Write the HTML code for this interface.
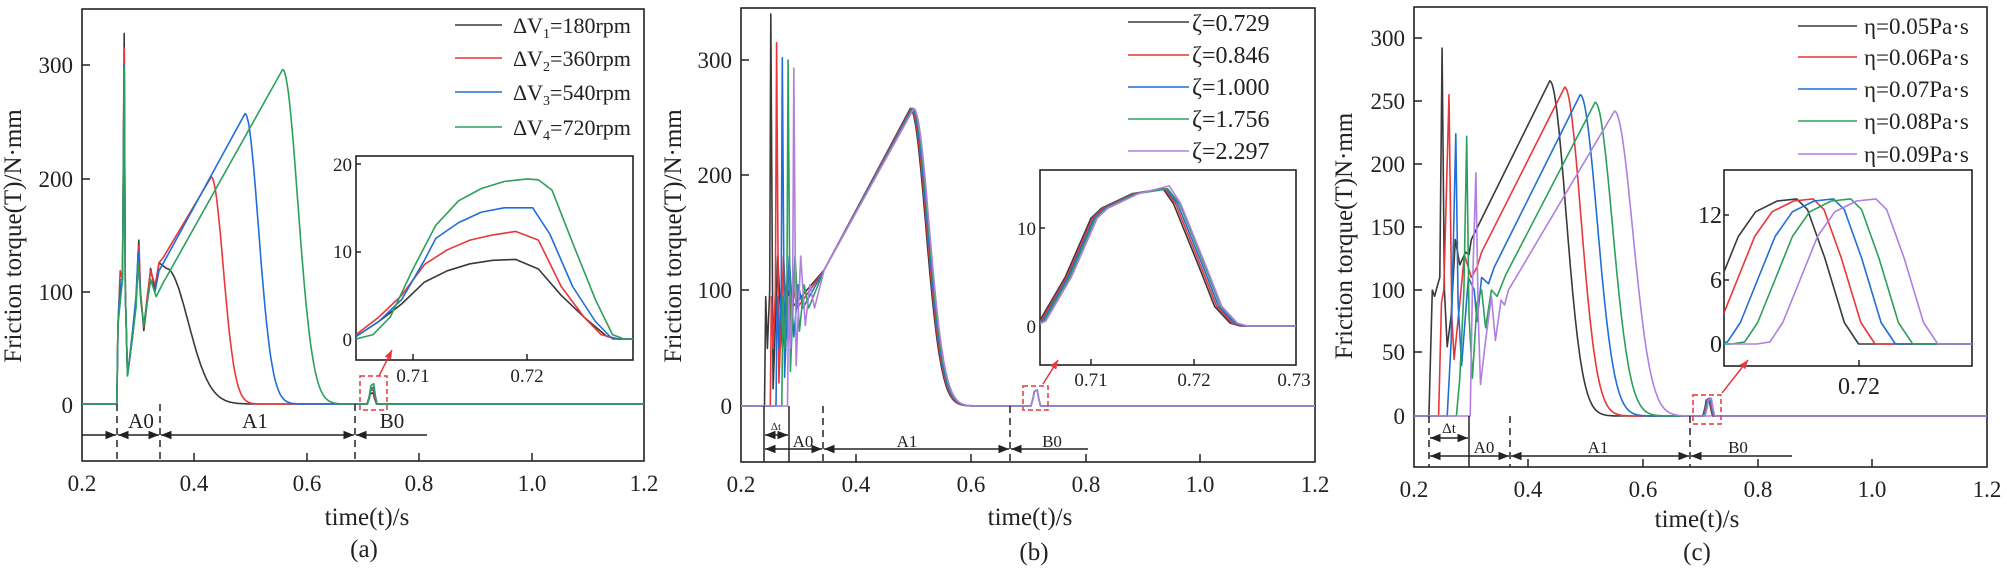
<!DOCTYPE html>
<html><head><meta charset="utf-8"><style>
html,body{margin:0;padding:0;background:#fff}
svg{display:block}
text{font-family:"Liberation Serif",serif;fill:#222}
</style></head><body>
<svg id="s" width="2007" height="579" viewBox="0 0 2007 579" xmlns="http://www.w3.org/2000/svg">
<defs>
<clipPath id="ca"><rect x="82" y="9" width="562" height="452"/></clipPath>
<clipPath id="cb"><rect x="741" y="8" width="574" height="454"/></clipPath>
<clipPath id="cc"><rect x="1414" y="7" width="573" height="460"/></clipPath>
<clipPath id="ia"><rect x="356" y="156" width="277" height="204"/></clipPath>
<clipPath id="ib"><rect x="1040" y="170" width="256" height="195"/></clipPath>
<clipPath id="ic"><rect x="1724" y="170" width="248" height="196"/></clipPath>
<marker id="ah" viewBox="0 0 10 10" refX="10" refY="5" markerWidth="7" markerHeight="7" orient="auto-start-reverse"><path d="M0,1 L10,5 L0,9 z" fill="#222"/></marker>
<marker id="ar" viewBox="0 0 10 10" refX="10" refY="5" markerWidth="6" markerHeight="6" orient="auto"><path d="M0,1 L10,5 L0,9 z" fill="#e8373a"/></marker>
</defs>
<g fill="none" stroke="#222" stroke-width="1.6">
<rect x="82" y="9" width="562" height="452"/>
<rect x="741" y="8" width="574" height="454"/>
<rect x="1414" y="7" width="573" height="460"/>
<rect x="356" y="156" width="277" height="204"/>
<rect x="1040" y="170" width="256" height="195"/>
<rect x="1724" y="170" width="248" height="196"/>
</g>
<g id="ticks" stroke="#222" stroke-width="1.5"></g>
<g id="curves" fill="none" stroke-width="1.6" stroke-linejoin="round"></g>

<!-- panel a text -->
<g font-size="23" text-anchor="end">
<text x="73" y="73">300</text><text x="73" y="187">200</text><text x="73" y="300">100</text><text x="73" y="413">0</text>
</g>
<g font-size="23" text-anchor="middle">
<text x="82" y="491">0.2</text><text x="194" y="491">0.4</text><text x="307" y="491">0.6</text><text x="419" y="491">0.8</text><text x="532" y="491">1.0</text><text x="644" y="491">1.2</text>
<text x="367" y="525" font-size="25">time(t)/s</text><text x="364" y="557" font-size="25">(a)</text>
</g>
<text transform="translate(21,236) rotate(-90)" font-size="25" text-anchor="middle">Friction torque(T)/N·mm</text>
<g font-size="22">
<text x="513" y="33">ΔV<tspan font-size="14" dy="5">1</tspan><tspan dy="-5">=180rpm</tspan></text>
<text x="513" y="66">ΔV<tspan font-size="14" dy="5">2</tspan><tspan dy="-5">=360rpm</tspan></text>
<text x="513" y="100">ΔV<tspan font-size="14" dy="5">3</tspan><tspan dy="-5">=540rpm</tspan></text>
<text x="513" y="135">ΔV<tspan font-size="14" dy="5">4</tspan><tspan dy="-5">=720rpm</tspan></text>
</g>
<g font-size="19" text-anchor="end"><text x="352" y="171">20</text><text x="352" y="258">10</text><text x="352" y="346">0</text></g>
<g font-size="19" text-anchor="middle"><text x="413" y="382">0.71</text><text x="527" y="382">0.72</text></g>
<g font-size="21" text-anchor="middle"><text x="141" y="428">A0</text><text x="255" y="428">A1</text><text x="392" y="428">B0</text></g>

<!-- panel b text -->
<g font-size="23" text-anchor="end">
<text x="732" y="68">300</text><text x="732" y="183">200</text><text x="732" y="298">100</text><text x="732" y="414">0</text>
</g>
<g font-size="23" text-anchor="middle">
<text x="741" y="492">0.2</text><text x="856" y="492">0.4</text><text x="971" y="492">0.6</text><text x="1086" y="492">0.8</text><text x="1200" y="492">1.0</text><text x="1315" y="492">1.2</text>
<text x="1030" y="525" font-size="25">time(t)/s</text><text x="1034" y="560" font-size="25">(b)</text>
</g>
<text transform="translate(681,236) rotate(-90)" font-size="25" text-anchor="middle">Friction torque(T)/N·mm</text>
<g font-size="24">
<text x="1192" y="31">ζ=0.729</text><text x="1192" y="63">ζ=0.846</text><text x="1192" y="95">ζ=1.000</text><text x="1192" y="127">ζ=1.756</text><text x="1192" y="159">ζ=2.297</text>
</g>
<g font-size="19" text-anchor="end"><text x="1036" y="235">10</text><text x="1036" y="333">0</text></g>
<g font-size="19" text-anchor="middle"><text x="1091" y="386">0.71</text><text x="1194" y="386">0.72</text><text x="1294" y="386">0.73</text></g>
<g font-size="17" text-anchor="middle"><text x="803" y="447">A0</text><text x="907" y="447">A1</text><text x="1052" y="447">B0</text><text x="776" y="430" font-size="11">Δt</text></g>

<!-- panel c text -->
<g font-size="23" text-anchor="end">
<text x="1405" y="46">300</text><text x="1405" y="109">250</text><text x="1405" y="172">200</text><text x="1405" y="235">150</text><text x="1405" y="298">100</text><text x="1405" y="360">50</text><text x="1405" y="424">0</text>
</g>
<g font-size="23" text-anchor="middle">
<text x="1414" y="497">0.2</text><text x="1528" y="497">0.4</text><text x="1643" y="497">0.6</text><text x="1758" y="497">0.8</text><text x="1872" y="497">1.0</text><text x="1987" y="497">1.2</text>
<text x="1697" y="527" font-size="25">time(t)/s</text><text x="1697" y="560" font-size="25">(c)</text>
</g>
<text transform="translate(1352,236) rotate(-90)" font-size="25" text-anchor="middle">Friction torque(T)N·mm</text>
<g font-size="23">
<text x="1864" y="34">η=0.05Pa·s</text><text x="1864" y="65">η=0.06Pa·s</text><text x="1864" y="97">η=0.07Pa·s</text><text x="1864" y="129">η=0.08Pa·s</text><text x="1864" y="162">η=0.09Pa·s</text>
</g>
<g font-size="24" text-anchor="end"><text x="1722" y="223">12</text><text x="1722" y="288">6</text><text x="1722" y="352">0</text></g>
<text x="1859" y="394" font-size="24" text-anchor="middle">0.72</text>
<g font-size="17" text-anchor="middle"><text x="1484" y="453">A0</text><text x="1598" y="453">A1</text><text x="1738" y="453">B0</text><text x="1449" y="433" font-size="15">Δt</text></g>

<g id="ann" fill="none" stroke="#222" stroke-width="1.5"></g>
</svg>
<script>
var NS="http://www.w3.org/2000/svg";
function el(par,tag,at){var e=document.createElementNS(NS,tag);for(var k in at)e.setAttribute(k,at[k]);document.getElementById(par).appendChild(e);return e;}
function G(t0,v0,w,t1){var r=[];for(var t=t0+0.002;t<=t1;t+=0.002){var z=(t-t0)/w;r.push([t,v0*Math.exp(-z*z)]);}return r;}
function B(c,h){return [[c-0.009,0],[c-0.005,h*0.5],[c-0.003,h*0.9],[c+0.002,h],[c+0.005,h*0.4],[c+0.008,0]];}
function poly(g,pts,X,Y,col,clip){el(g,"polyline",{points:pts.map(function(p){return X(p[0]).toFixed(1)+","+Y(p[1]).toFixed(1);}).join(" "),stroke:col,"clip-path":"url(#"+clip+")"});}
var C=["#3a3a3a","#e8373a","#1f6fd6","#2ca05a","#b07fe0"];
function tk(x1,y1,x2,y2){el("ticks","line",{x1:x1,y1:y1,x2:x2,y2:y2});}
[194,307,419,532].forEach(function(x){tk(x,461,x,453);});[65,179,292].forEach(function(y){tk(82,y,90,y);});
[856,971,1086,1200].forEach(function(x){tk(x,462,x,454);});[60,175,290].forEach(function(y){tk(741,y,749,y);});
[1528,1643,1758,1872].forEach(function(x){tk(x,467,x,459);});[38,101,164,227,290,352].forEach(function(y){tk(1414,y,1422,y);});
[413,527].forEach(function(x){tk(x,360,x,354);});[164,252].forEach(function(y){tk(356,y,361,y);});
[1091,1194].forEach(function(x){tk(x,365,x,359);});tk(1040,228,1045,228);
tk(1859,366,1859,360);[215,280].forEach(function(y){tk(1724,y,1729,y);});
[[455,502,[25,58,92,127]],[1128,1189,[22,55,87,119,151]],[1798,1857,[26,57,89,121,154]]].forEach(function(L){
 L[2].forEach(function(y,i){el("curves","line",{x1:L[0],x2:L[1],y1:y,y2:y,stroke:C[i]});});});
// panel a
var Xa=function(t){return 82+(t-0.2)*562;},Ya=function(v){return 404-v*1.13;};
function st(P,s2){return [[0.2,0],[0.262,0],[0.264,70],[0.268,s2],[0.272,110],[0.275,P],[0.277,100],[0.281,25]];}
var a=[
 st(328,100).concat([[0.29,60],[0.296,90],[0.301,145],[0.304,100],[0.31,65],[0.316,90],[0.322,120],[0.33,100],[0.337,125],[0.345,122],[0.35,120]],G(0.35,120,0.055,0.62),B(0.716,10),[[1.2,0]]),
 st(315,118).concat([[0.29,60],[0.296,90],[0.301,140],[0.304,100],[0.31,68],[0.316,95],[0.322,118],[0.33,105],[0.337,125],[0.345,130],[0.43,201]],G(0.43,201,0.03,0.62),B(0.716,13),[[1.2,0]]),
 st(300,110).concat([[0.29,65],[0.296,95],[0.3,135],[0.305,90],[0.31,70],[0.322,110],[0.33,100],[0.337,118],[0.345,125],[0.49,257]],G(0.49,257,0.034,0.66),B(0.717,15),[[1.2,0]]),
 st(298,90).concat([[0.29,60],[0.296,85],[0.3,125],[0.305,90],[0.31,70],[0.322,110],[0.332,95],[0.345,108],[0.35,112],[0.557,296]],G(0.557,296,0.038,0.7),B(0.717,18),[[1.2,0]])];
a.forEach(function(p,i){poly("curves",p,Xa,Ya,C[i],"ca");});
var Xia=function(t){return 413+(t-0.71)*11400;},Yia=function(v){return 339-v*8.75;};
var ia=[
[[0.705,0.3],[0.707,2],[0.709,4],[0.711,6.5],[0.713,7.8],[0.715,8.6],[0.717,9],[0.719,9.1],[0.721,8],[0.723,5],[0.725,2.5],[0.727,0.3],[0.728,0],[0.73,0]],
[[0.705,0.5],[0.707,2.5],[0.709,5],[0.711,8.5],[0.713,10.2],[0.715,11.3],[0.717,11.9],[0.719,12.3],[0.721,11.3],[0.723,6],[0.725,2.5],[0.7265,0.5],[0.728,0],[0.73,0]],
[[0.705,0.3],[0.707,2],[0.709,4.5],[0.711,9],[0.712,11.5],[0.714,13.3],[0.716,14.5],[0.718,15],[0.7205,15],[0.722,12],[0.724,6],[0.726,2],[0.7275,0],[0.73,0]],
[[0.705,0],[0.7065,0.5],[0.708,2.5],[0.71,8],[0.712,13],[0.714,15.8],[0.716,17.2],[0.718,18],[0.72,18.3],[0.721,18.2],[0.7222,17],[0.724,11],[0.726,4.5],[0.7275,0.5],[0.7285,0],[0.73,0]]];
ia.forEach(function(p,i){poly("curves",p,Xia,Yia,C[i],"ia");});
// panel b
var Xb=function(t){return 741+(t-0.2)*574;},Yb=function(v){return 406-v*1.153;};
var Pk=[340,315,302,300,293];
for(var i=0;i<5;i++){var s=0.252+i*0.01,o=s-0.011,pk=0.495+0.0015*i;
 var p=[[0.2,0],[o,0],[o+0.002,95],[o+0.005,50],[o+0.009,100],[s,Pk[i]],[s+0.004,15+5*i],[s+0.012,130],[s+0.02,50+5*i],[s+0.028,105],[s+0.036,85],[0.345,118],[pk,258]].concat(G(pk,258,0.038,0.65),B(0.714,14),[[1.2,0]]);
 poly("curves",p,Xb,Yb,C[i],"cb");}
var Xib=function(t){return 1091+(t-0.71)*10300;},Yib=function(v){return 326-v*9.8;};
for(var i=0;i<5;i++){var d=i*0.00015,e=(i==4?0.0007:i*0.0002),h=(i==4?14.3:14);
 poly("curves",[[0.7045,0],[0.705+d,0.5],[0.7075+d,5],[0.71+d,11],[0.711+d,12],[0.714+d,13.5],[0.717+d,h],[0.718+e,12.5],[0.7205+e,6],[0.722+e,2],[0.7235+e,0.3],[0.7245+e,0],[0.73,0]],Xib,Yib,C[i],"ib");}
// panel c
var Xc=function(t){return 1414+(t-0.2)*573;},Yc=function(v){return 416-v*1.26;};
var c=[
 [[0.2,0],[0.226,0],[0.232,100],[0.236,95],[0.24,102],[0.245,110],[0.249,292],[0.253,100],[0.258,55],[0.265,80],[0.272,140],[0.28,120],[0.29,130],[0.296,128],[0.3,140],[0.437,266]].concat(G(0.437,266,0.04,0.6),B(0.713,14),[[1.2,0]]),
 [[0.2,0],[0.243,0],[0.248,90],[0.252,100],[0.261,255],[0.266,80],[0.27,45],[0.28,90],[0.288,128],[0.3,110],[0.31,118],[0.318,130],[0.463,261]].concat(G(0.463,261,0.04,0.63),B(0.714,14),[[1.2,0]]),
 [[0.2,0],[0.258,0],[0.265,60],[0.273,224],[0.277,90],[0.283,40],[0.295,110],[0.305,100],[0.31,75],[0.318,110],[0.33,105],[0.34,118],[0.49,255]].concat(G(0.49,255,0.042,0.66),B(0.715,14),[[1.2,0]]),
 [[0.2,0],[0.274,0],[0.28,30],[0.287,100],[0.292,222],[0.296,80],[0.302,30],[0.31,90],[0.318,100],[0.325,70],[0.335,100],[0.345,95],[0.36,112],[0.516,249]].concat(G(0.516,249,0.043,0.69),B(0.716,14),[[1.2,0]]),
 [[0.2,0],[0.298,0],[0.302,100],[0.308,193],[0.312,80],[0.316,25],[0.325,60],[0.335,95],[0.342,60],[0.352,92],[0.358,88],[0.365,100],[0.55,242]].concat(G(0.55,242,0.045,0.72),B(0.717,14),[[1.2,0]])];
c.forEach(function(p,i){poly("curves",p,Xc,Yc,C[i],"cc");});
var tpl=[[-260,0],[-200,0],[-170,0.2],[-140,2],[-100,6],[-60,10],[-20,12.3],[30,13.3],[75,13.5],[100,12.5],[140,8],[185,2],[218,0],[700,0]];
[0,38,85,125,183].forEach(function(sh,i){poly("curves",tpl.map(function(p){return [1010+sh+p[0],p[1]];}),function(zx){return 1327+zx/2.31;},function(v){return 344-v*10.75;},C[i],"ic");});
// annotations
function ln(x1,y1,x2,y2,dash,mk){var q={x1:x1,y1:y1,x2:x2,y2:y2};if(dash)q["stroke-dasharray"]="7,5";if(mk){q["marker-end"]="url(#ah)";}el("ann","line",q);}
function seg(xa,xb,y){ln((xa+xb)/2,y,xa+1,y,0,1);ln((xa+xb)/2,y,xb-1,y,0,1);}
[117,160,355].forEach(function(x){ln(x,404,x,461,1);});
ln(82,435,116,435,0,1);seg(117,160,435);seg(160,355,435);ln(427,435,356,435,0,1);
ln(764,406,764,462);ln(789,406,789,462);ln(823,406,823,462,1);ln(1010,406,1010,462,1);
seg(764,789,435);seg(764,823,449);seg(823,1010,449);ln(1088,449,1011,449,0,1);
ln(1429,416,1429,467,1);ln(1469,416,1469,467);ln(1510,416,1510,467,1);ln(1690,416,1690,467,1);
seg(1429,1469,438);seg(1429,1510,456);seg(1510,1690,456);ln(1792,456,1691,456,0,1);
[[360,376,27,34],[1023,386,25,24],[1693,395,28,29]].forEach(function(r){el("ann","rect",{x:r[0],y:r[1],width:r[2],height:r[3],stroke:"#e8373a","stroke-dasharray":"5,3"});});
[[379,376,392,350],[1043,384,1058,360],[1722,393,1748,360]].forEach(function(r){el("ann","line",{x1:r[0],y1:r[1],x2:r[2],y2:r[3],stroke:"#e8373a","marker-end":"url(#ar)"});});
</script>
</body></html>
